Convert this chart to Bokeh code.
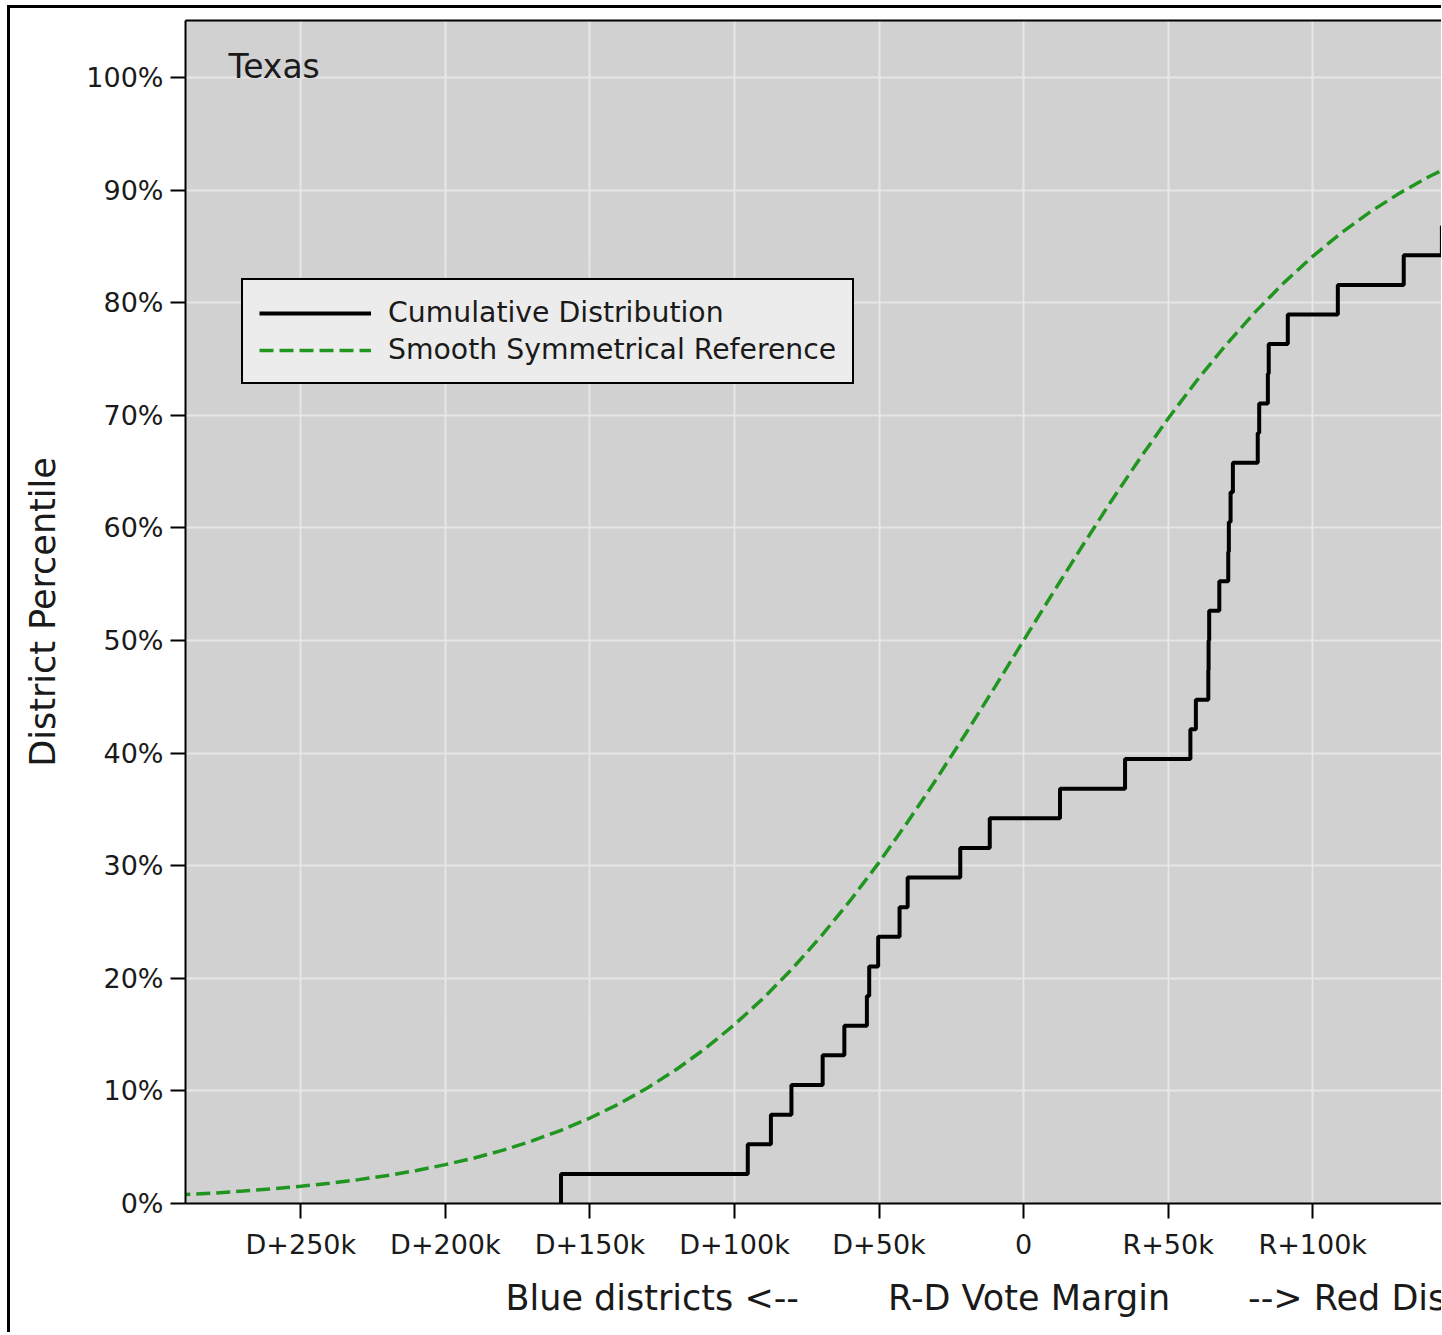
from bokeh.plotting import figure
from bokeh.models import Range1d, FixedTicker, LinearAxis, Label, Legend, LegendItem, Title
from bokeh.embed import file_html
from bokeh.resources import INLINE

# ---------------- data ----------------
state_name = "Texas"

# R-D vote margin (thousands of votes) at which the cumulative distribution steps up
step_margins_k = [-160.0, -95.4, -87.4, -80.3, -69.5, -62.0, -54.2, -53.4, -50.3,
                  -42.9, -40.1, -21.9, -11.7, 12.6, 35.1, 57.7, 59.6, 63.9, 64.0,
                  64.2, 67.7, 70.8, 71.0, 71.6, 72.4, 81.0, 81.5, 84.5, 84.8,
                  91.4, 108.7, 131.5, 144.7]
# district percentile (%) reached at each of those steps
step_percentiles = [2.63, 5.26, 7.89, 10.53, 13.16, 15.79, 18.42, 21.05, 23.68,
                    26.32, 28.95, 31.58, 34.21, 36.84, 39.47, 42.11, 44.74, 47.37,
                    50.00, 52.63, 55.26, 57.89, 60.53, 63.16, 65.79, 68.42, 71.05,
                    73.68, 76.32, 78.95, 81.58, 84.21, 86.84]

# smooth symmetrical reference curve, read at regular margins
ref_margins_k = [-300, -290, -280, -270, -260, -250, -240, -230, -220, -210, -200,
                 -190, -180, -170, -160, -150, -140, -130, -120, -110, -100, -90,
                 -80, -70, -60, -50, -40, -30, -20, -10, 0, 10, 20, 30, 40, 50,
                 60, 70, 80, 90, 100, 110, 120, 130, 140, 150]
ref_percentiles = [0.67, 0.79, 0.93, 1.10, 1.30, 1.53, 1.80, 2.12, 2.49, 2.93, 3.45,
                   4.04, 4.74, 5.56, 6.50, 7.59, 8.84, 10.28, 11.92, 13.78, 15.89,
                   18.24, 20.86, 23.75, 26.89, 30.29, 33.92, 37.75, 41.74, 45.84,
                   50.00, 54.16, 58.26, 62.25, 66.08, 69.71, 73.11, 76.25, 79.14,
                   81.76, 84.11, 86.22, 88.08, 89.72, 91.16, 92.41]

x_tick_values = [-250, -200, -150, -100, -50, 0, 50, 100, 150]
x_tick_labels = ["D+250k", "D+200k", "D+150k", "D+100k", "D+50k", "0",
                 "R+50k", "R+100k", "R+150k"]
y_tick_values = [0, 10, 20, 30, 40, 50, 60, 70, 80, 90, 100]
y_tick_labels = ["0%", "10%", "20%", "30%", "40%", "50%", "60%", "70%", "80%",
                 "90%", "100%"]

legend_labels = ["Cumulative Distribution", "Smooth Symmetrical Reference"]
x_label_parts = ["Blue districts <--", "R-D Vote Margin", "--> Red Districts"]
y_label = "District Percentile"

# ---------------- figure ----------------
FONT = "DejaVu Sans"
TXT = "#1a1a1a"

p = figure(width=1434, height=1327,
           x_range=Range1d(-289.9, 145.6), y_range=Range1d(0, 105.06),
           output_backend="svg", toolbar_location=None,
           min_border_left=175, min_border_right=0, min_border_top=12,
           min_border_bottom=132,
           background_fill_color="#d1d1d1", border_fill_color="white",
           outline_line_color=None)
p.margin = (5, 0, 0, 7)
p.styles = {"border-left": "3px solid black", "border-top": "3px solid black"}

# axes
for ax in (p.xaxis[0], p.yaxis[0]):
    ax.axis_line_color = "black"
    ax.axis_line_width = 2
    ax.major_tick_line_color = "black"
    ax.major_tick_line_width = 2
    ax.major_tick_out = 15
    ax.major_tick_in = 0
    ax.minor_tick_line_color = None
    ax.major_label_text_font = FONT
    ax.major_label_text_font_size = "27px"
    ax.major_label_text_color = TXT

p.xaxis[0].ticker = FixedTicker(ticks=x_tick_values)
p.xaxis[0].major_label_overrides = dict(zip(x_tick_values, x_tick_labels))
p.xaxis[0].major_label_standoff = 10
p.yaxis[0].ticker = FixedTicker(ticks=y_tick_values)
p.yaxis[0].major_label_overrides = dict(zip(y_tick_values, y_tick_labels))
p.yaxis[0].major_label_standoff = 7
p.yaxis[0].axis_label = y_label
p.yaxis[0].axis_label_text_font = FONT
p.yaxis[0].axis_label_text_font_size = "35px"
p.yaxis[0].axis_label_text_font_style = "normal"
p.yaxis[0].axis_label_text_color = TXT
p.yaxis[0].axis_label_standoff = 20

# top frame edge
top_axis = LinearAxis(ticker=FixedTicker(ticks=[]), axis_line_color="black",
                      axis_line_width=2, major_tick_line_color=None,
                      minor_tick_line_color=None)
p.add_layout(top_axis, "above")

# x axis title: one line under the axis, gaps kept with non-breaking spaces
gap1 = "\u00a0" * 8
gap2 = "\u00a0" * 7
x_title = Title(text=x_label_parts[0] + gap1 + x_label_parts[1] + gap2 + x_label_parts[2],
                align="left", offset=320, standoff=26,
                text_font=FONT, text_font_size="35px", text_font_style="normal",
                text_color=TXT)
p.add_layout(x_title, "below")

# grid
p.xgrid.ticker = FixedTicker(ticks=x_tick_values)
p.ygrid.ticker = FixedTicker(ticks=y_tick_values)
p.grid.grid_line_color = "#e6e6e6"
p.grid.grid_line_width = 2

# data
step_x = [step_margins_k[0]] + step_margins_k
step_y = [0] + step_percentiles
r_step = p.step(step_x, step_y, mode="after", line_color="black", line_width=4)
r_ref = p.line(ref_margins_k, ref_percentiles, line_color="#209620",
               line_width=3.5, line_dash="14 6")

legend = Legend(items=[LegendItem(label=legend_labels[0], renderers=[r_step]),
                       LegendItem(label=legend_labels[1], renderers=[r_ref])],
                location=(56, 819),
                label_text_font=FONT, label_text_font_size="28.3px",
                label_text_color=TXT,
                glyph_width=112, glyph_height=32, label_height=32,
                label_standoff=17, spacing=4, padding=16,
                border_line_color="black", border_line_width=2,
                border_line_alpha=1.0,
                background_fill_color="#ececec", background_fill_alpha=1.0)
p.add_layout(legend, "center")

# state name
p.add_layout(Label(x=-275, y=100.98, text=state_name, text_font=FONT,
                   text_font_size="33px", text_color=TXT,
                   text_baseline="middle", text_align="left"))

open("out.html", "w").write(file_html(p, INLINE))
